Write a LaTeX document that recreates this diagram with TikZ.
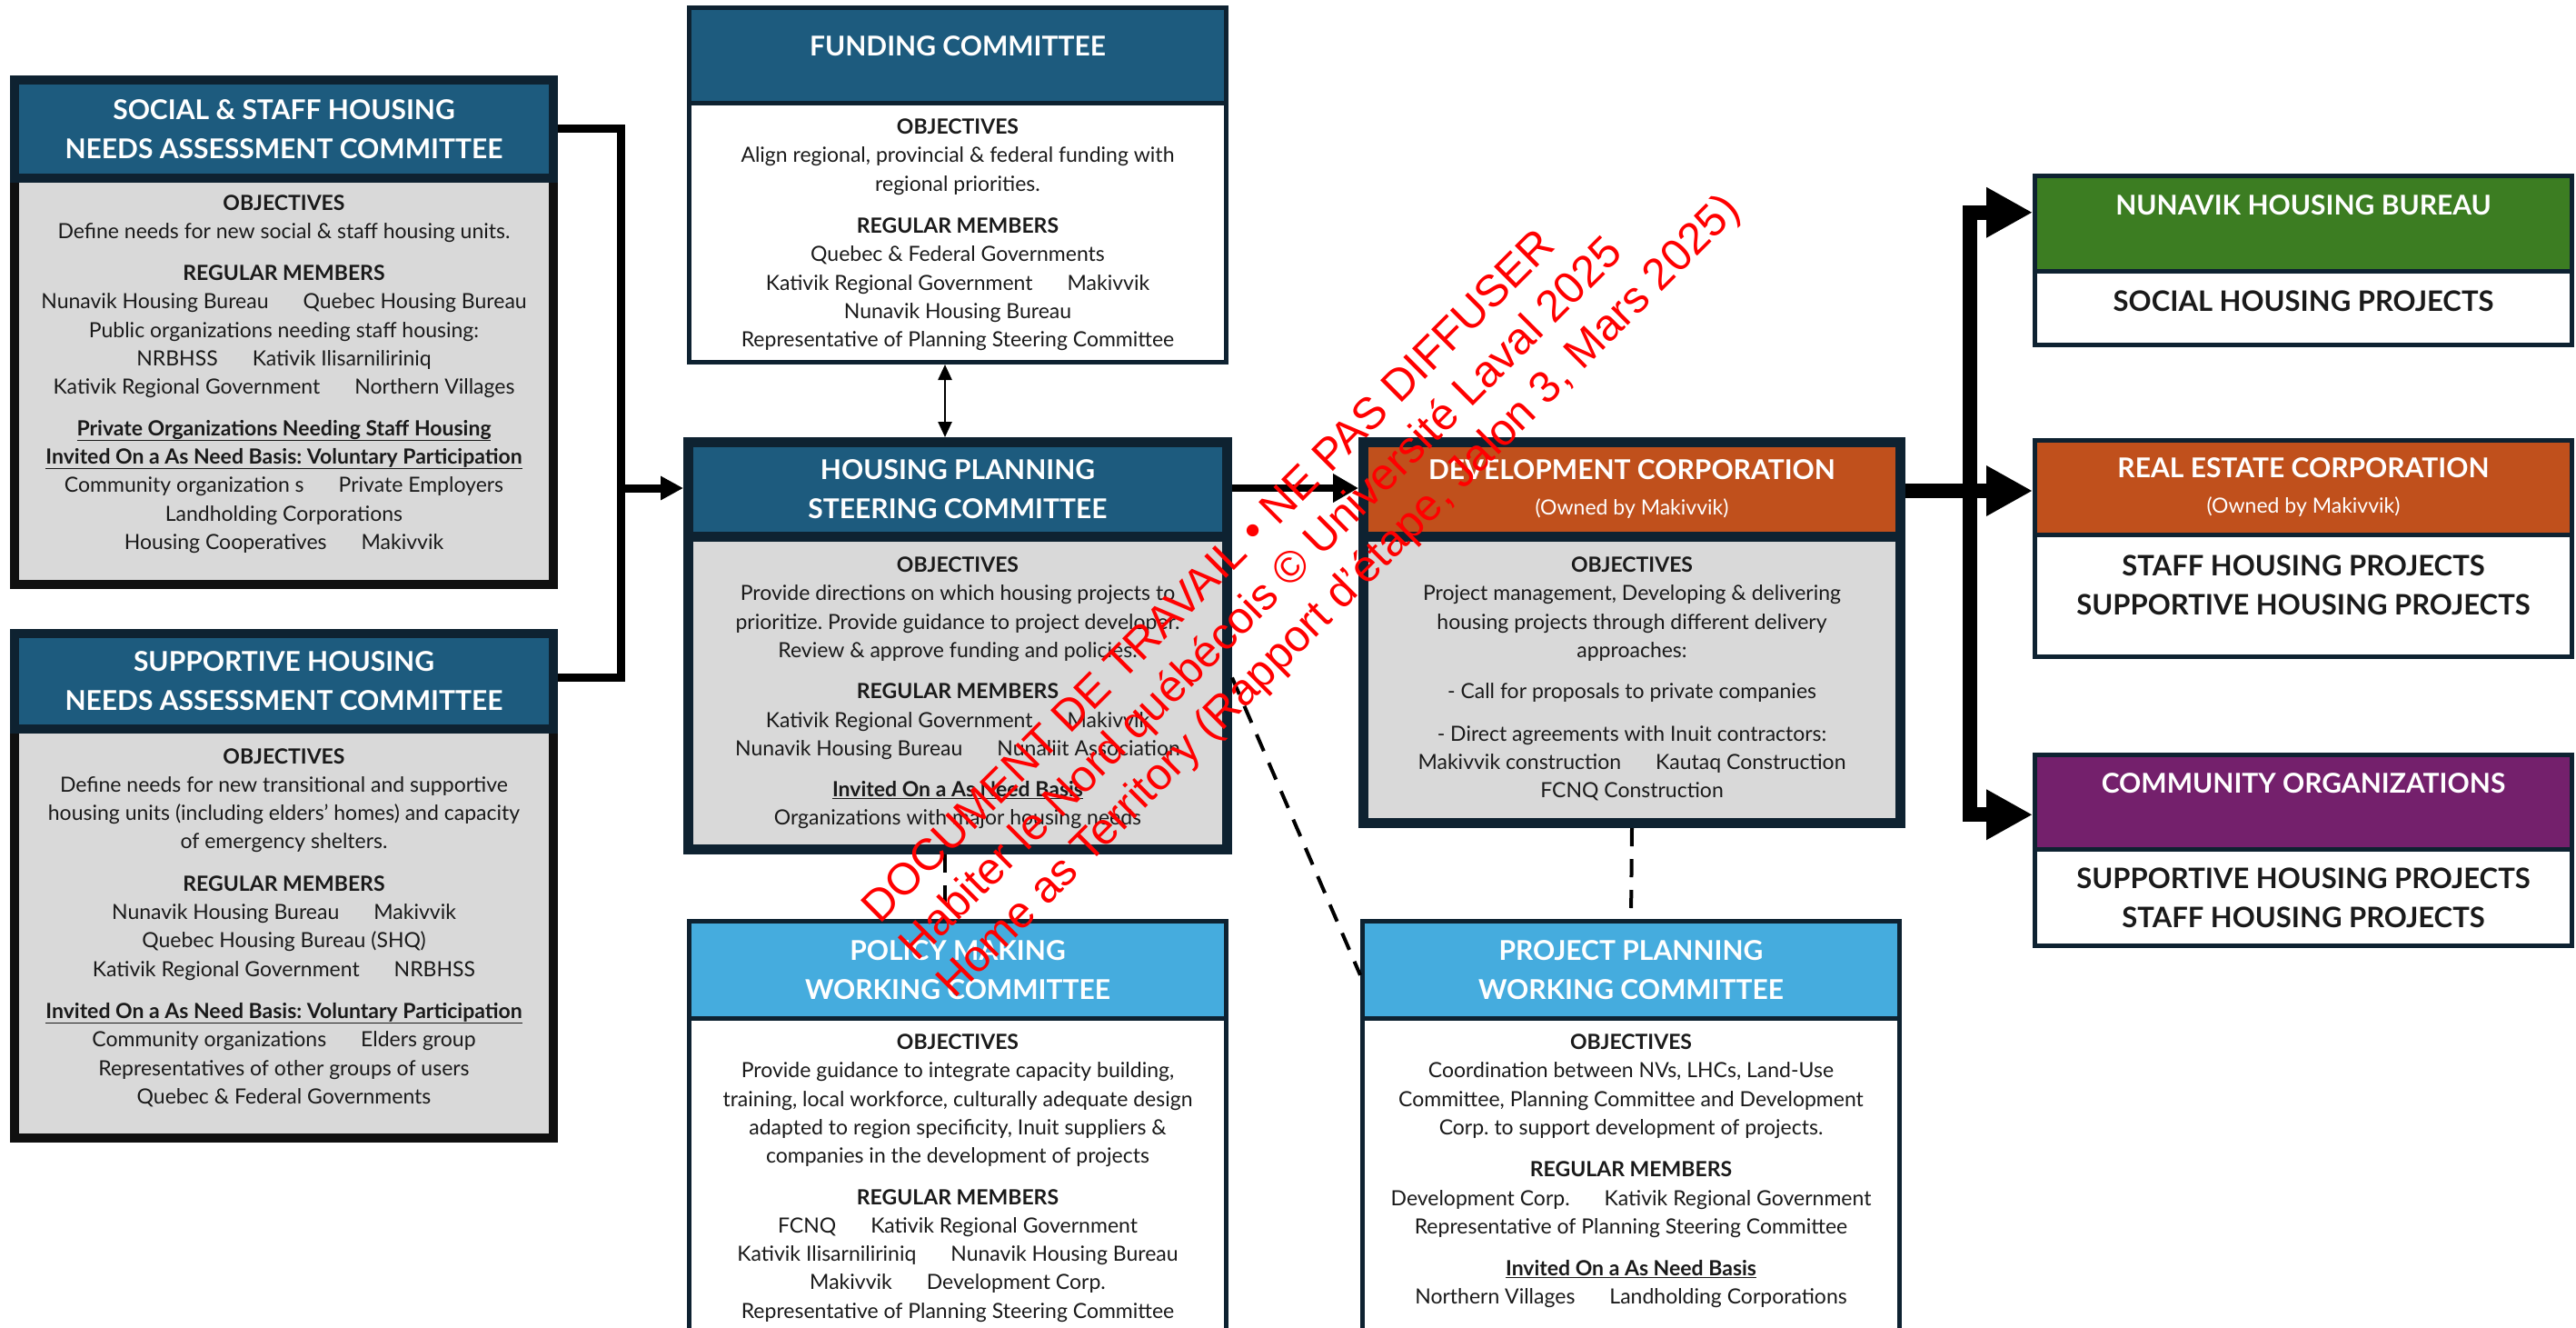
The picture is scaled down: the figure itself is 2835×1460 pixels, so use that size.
\documentclass[tikz,border=0pt]{standalone}
\usepackage{fontspec}
\setmainfont{Lato}
\newfontfamily\wmfont{Liberation Sans}
\usetikzlibrary{positioning,arrows.meta}

\definecolor{hdblue}{HTML}{1D5B7E}
\definecolor{hdsky}{HTML}{45ACDE}
\definecolor{hdrust}{HTML}{C0501C}
\definecolor{hdgreen}{HTML}{3C7D22}
\definecolor{hdplum}{HTML}{74206C}
\definecolor{navy}{HTML}{0E2231}
\definecolor{inkblack}{HTML}{101010}
\definecolor{panel}{HTML}{D9D9D9}
\definecolor{ink}{HTML}{1A1A1A}
\definecolor{wmred}{HTML}{FF0000}

\newcommand{\bodyfont}{\frenchspacing\fontsize{23}{31.3}\selectfont}
\newcommand{\titlefont}{\bfseries\fontsize{30}{43}\selectfont}
\newcommand{\outfont}{\bfseries\fontsize{31}{43}\selectfont}
\newcommand{\ownedfont}{\mdseries\fontsize{23}{30}\selectfont}
\newcommand{\labelhd}[1]{\textbf{#1}}
\newcommand{\ulbold}[1]{\underline{\textbf{#1}}}
\newcommand{\gapsep}{\hspace{38pt}}

\begin{document}
\begin{tikzpicture}[x=1pt, y=-1pt,
    thickbox/.style={draw=navy, line width=11pt, fill=panel, inner sep=0pt, anchor=north west},
    thinbox/.style={draw=navy, line width=5pt, fill=white, inner sep=0pt, anchor=north west},
    hdr/.style={draw=navy, inner sep=0pt, anchor=north, text=white, font=\titlefont, align=center},
    hdtitle/.style={inner sep=0pt, text=white, font=\titlefont, align=center},
    txt/.style={inner sep=0pt, align=center, font=\bodyfont, text=ink},
    outcome/.style={inner sep=0pt, align=center, font=\outfont, text=ink},
    wm/.style={rotate=45, anchor=base west, inner sep=0pt, text=wmred,
      font=\wmfont\fontsize{49}{58}\selectfont},
    busline/.style={line width=9pt},
    busarr/.style={line width=9pt, -{Triangle[length=25pt,width=25pt]}},
    midarr/.style={line width=8pt, -{Triangle[length=28pt,width=30pt]}},
    fatline/.style={line width=16pt},
    fatarr/.style={line width=16pt, -{Triangle[length=51pt,width=52pt]}},
    twoway/.style={line width=2.5pt, {Triangle[length=17pt,width=15pt]}-{Triangle[length=17pt,width=15pt]}},
    dashln/.style={line width=4pt, dash pattern=on 20pt off 14pt}
  ]
  \fill[white] (0,0) rectangle (2835,1460);
  \useasboundingbox (0,0) rectangle (2835,1460);

  \node[thickbox, draw=inkblack, line width=10pt, minimum width=593pt, minimum height=555pt]
    (social) at (11,83) {};
  \node[hdr, fill=hdblue, line width=10pt, minimum width=593pt, minimum height=108pt]
    (socialhd) at (social.north) {SOCIAL \& STAFF HOUSING\\NEEDS ASSESSMENT COMMITTEE};
  \node[txt, below=13pt of socialhd] (socialtx) {\labelhd{OBJECTIVES}\\
    Define needs for new social \& staff housing units.\\[15pt]
    \labelhd{REGULAR MEMBERS}\\
    Nunavik Housing Bureau\gapsep Quebec Housing Bureau\\
    Public organizations needing staff housing:\\
    NRBHSS\gapsep Kativik Ilisarniliriniq\\
    Kativik Regional Government\gapsep Northern Villages\\[14pt]
    \ulbold{Private Organizations Needing Staff Housing}\\
    \ulbold{Invited On a As Need Basis: Voluntary Participation}\\
    Community organization s\gapsep Private Employers\\
    Landholding Corporations\\
    Housing Cooperatives\gapsep Makivvik};

  \node[thickbox, draw=inkblack, line width=10pt, minimum width=593pt, minimum height=555pt]
    (supp) at (11,692) {};
  \node[hdr, fill=hdblue, line width=10pt, minimum width=593pt, minimum height=105pt]
    (supphd) at (supp.north) {SUPPORTIVE HOUSING\\NEEDS ASSESSMENT COMMITTEE};
  \node[txt, below=16pt of supphd] (supptx) {\labelhd{OBJECTIVES}\\
    Define needs for new transitional and supportive\\
    housing units (including elders’ homes) and capacity\\
    of emergency shelters.\\[15pt]
    \labelhd{REGULAR MEMBERS}\\
    Nunavik Housing Bureau\gapsep Makivvik\\
    Quebec Housing Bureau (SHQ)\\
    Kativik Regional Government\gapsep NRBHSS\\[15pt]
    \ulbold{Invited On a As Need Basis: Voluntary Participation}\\
    Community organizations\gapsep Elders group\\
    Representatives of other groups of users\\
    Quebec \& Federal Governments};

  \node[thinbox, minimum width=591pt, minimum height=390pt] (fund) at (756,6) {};
  \node[hdr, fill=hdblue, line width=5pt, minimum width=591pt, minimum height=104.5pt]
    (fundhd) at (fund.north) {};
  \node[hdtitle, below=33pt of fundhd.north] (fundtitle) {FUNDING COMMITTEE};
  \node[txt, below=15pt of fundhd] (fundtx) {\labelhd{OBJECTIVES}\\
    Align regional, provincial \& federal funding with\\
    regional priorities.\\[15pt]
    \labelhd{REGULAR MEMBERS}\\
    Quebec \& Federal Governments\\
    Kativik Regional Government\gapsep Makivvik\\
    Nunavik Housing Bureau\\
    Representative of Planning Steering Committee};

  \node[thickbox, minimum width=593pt, minimum height=448pt] (steer) at (752,481) {};
  \node[hdr, fill=hdblue, line width=11pt, minimum width=593pt, minimum height=103.5pt]
    (steerhd) at (steer.north) {HOUSING PLANNING\\STEERING COMMITTEE};
  \node[txt, below=17pt of steerhd] (steertx) {\labelhd{OBJECTIVES}\\
    Provide directions on which housing projects to\\
    prioritize. Provide guidance to project developer.\\
    Review \& approve funding and policies.\\[14pt]
    \labelhd{REGULAR MEMBERS}\\
    Kativik Regional Government\gapsep Makivvik\\
    Nunavik Housing Bureau\gapsep Nunaliit Association\\[14pt]
    \ulbold{Invited On a As Need Basis}\\
    Organizations with major housing needs};

  \node[thickbox, minimum width=591pt, minimum height=419pt] (dev) at (1495,481) {};
  \node[hdr, fill=hdrust, line width=11pt, minimum width=591pt, minimum height=103.5pt]
    (devhd) at (dev.north) {DEVELOPMENT CORPORATION\\[-4pt]{\ownedfont (Owned by Makivvik)}};
  \node[txt, below=17pt of devhd] (devtx) {\labelhd{OBJECTIVES}\\
    Project management, Developing \& delivering\\
    housing projects through different delivery\\
    approaches:\\[14pt]
    - Call for proposals to private companies\\[15pt]
    - Direct agreements with Inuit contractors:\\
    Makivvik construction\gapsep Kautaq Construction\\
    FCNQ Construction};

  \node[thinbox, minimum width=591pt, minimum height=462pt] (policy) at (756,1011) {};
  \node[hdr, fill=hdsky, line width=5pt, minimum width=591pt, minimum height=106.5pt]
    (policyhd) at (policy.north) {POLICY MAKING\\WORKING COMMITTEE};
  \node[txt, below=15pt of policyhd] (policytx) {\labelhd{OBJECTIVES}\\
    Provide guidance to integrate capacity building,\\
    training, local workforce, culturally adequate design\\
    adapted to region specificity, Inuit suppliers \&\\
    companies in the development of projects\\[14pt]
    \labelhd{REGULAR MEMBERS}\\
    FCNQ\gapsep Kativik Regional Government\\
    Kativik Ilisarniliriniq\gapsep Nunavik Housing Bureau\\
    Makivvik\gapsep Development Corp.\\
    Representative of Planning Steering Committee};

  \node[thinbox, minimum width=591pt, minimum height=462pt] (prj) at (1497,1011) {};
  \node[hdr, fill=hdsky, line width=5pt, minimum width=591pt, minimum height=106.5pt]
    (prjhd) at (prj.north) {PROJECT PLANNING\\WORKING COMMITTEE};
  \node[txt, below=15pt of prjhd] (prjtx) {\labelhd{OBJECTIVES}\\
    Coordination between NVs, LHCs, Land-Use\\
    Committee, Planning Committee and Development\\
    Corp. to support development of projects.\\[15pt]
    \labelhd{REGULAR MEMBERS}\\
    Development Corp.\gapsep Kativik Regional Government\\
    Representative of Planning Steering Committee\\[15pt]
    \ulbold{Invited On a As Need Basis}\\
    Northern Villages\gapsep Landholding Corporations};

  \node[thinbox, minimum width=591pt, minimum height=186pt] (nhb) at (2237,191) {};
  \node[hdr, fill=hdgreen, line width=5pt, minimum width=591pt, minimum height=104.5pt]
    (nhbhd) at (nhb.north) {};
  \node[hdtitle, below=23pt of nhbhd.north] (nhbtitle) {NUNAVIK HOUSING BUREAU};
  \node[outcome, below=19pt of nhbhd] (nhbtx) {SOCIAL HOUSING PROJECTS};

  \node[thinbox, minimum width=591pt, minimum height=238pt] (rec) at (2237,482) {};
  \node[hdr, fill=hdrust, line width=5pt, minimum width=591pt, minimum height=103.5pt]
    (rechd) at (rec.north) {REAL ESTATE CORPORATION\\[-4pt]{\ownedfont (Owned by Makivvik)}};
  \node[outcome, below=20pt of rechd] (rectx) {STAFF HOUSING PROJECTS\\SUPPORTIVE HOUSING PROJECTS};

  \node[thinbox, minimum width=591pt, minimum height=210pt] (co) at (2237,828) {};
  \node[hdr, fill=hdplum, line width=5pt, minimum width=591pt, minimum height=103.5pt]
    (cohd) at (co.north) {};
  \node[hdtitle, below=22pt of cohd.north] (cotitle) {COMMUNITY ORGANIZATIONS};
  \node[outcome, below=18pt of cohd] (cotx) {SUPPORTIVE HOUSING PROJECTS\\STAFF HOUSING PROJECTS};

  \coordinate (lbus) at (683,537);
  \draw[busline] ([yshift=-58pt]social.north east) -| (lbus);
  \draw[busline] ([yshift=-53pt]supp.north east) -| (lbus);
  \draw[busarr] (lbus) -- (lbus -| steer.west);

  \draw[midarr] (steer.east |- lbus) -- (dev.west |- lbus);
  \draw[twoway] ([xshift=-14pt]fund.south) -- ([xshift=-14pt]steer.north);
  \draw[dashln] ([xshift=-14pt]steer.south) -- ([xshift=-14pt]policy.north);
  \draw[dashln] (dev.south) -- (prj.north);
  \draw[dashln] ([yshift=-35pt]steer.east) -- ([yshift=-6pt]prjhd.west);

  \coordinate (rbus) at (2168,540);
  \draw[fatline] (dev.east |- rbus) -- (rbus);
  \draw[fatarr] (rbus) |- ([yshift=12pt]nhbhd.west);
  \draw[fatarr] (rbus) -- (rec.west |- rbus);
  \draw[fatarr] (rbus) |- ([yshift=-14pt]cohd.west);

  \node[wm] (wmA) at (968,1018) {DOCUMENT DE TRAVAIL • NE PAS DIFFUSER};
  \node[wm] (wmB) at (1009,1059) {Habiter le Nord québécois © Université Laval 2025};
  \node[wm] (wmC) at (1050,1100) {Home as Territory (Rapport d’étape, Jalon 3, Mars 2025)};
\end{tikzpicture}
\end{document}
